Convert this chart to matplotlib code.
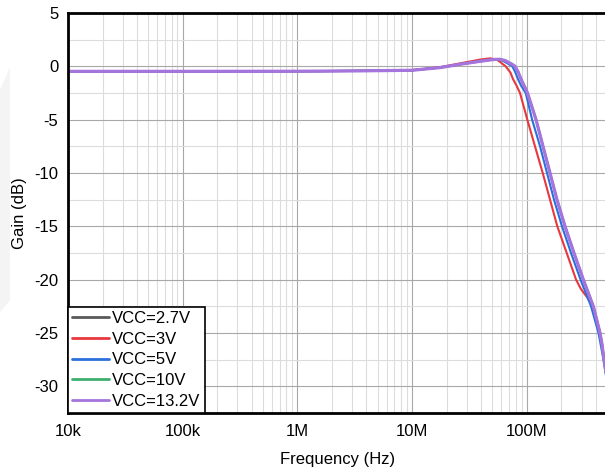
import matplotlib
matplotlib.use("Agg")
import matplotlib.pyplot as plt
from matplotlib.patches import Polygon
from matplotlib.ticker import FixedLocator, NullFormatter

plt.rcParams['font.family'] = ['Liberation Sans', 'DejaVu Sans']

# Frequency response, gain in dB versus frequency in Hz
freq_132 = [1e4, 1e5, 1e6, 3.2e6, 1e7, 17.5e6, 26.2e6, 39.1e6, 47.8e6, 52.8e6, 58.4e6,
            64.5e6, 71.3e6, 75.0e6, 78.9e6, 83.8e6, 89.0e6, 94.6e6, 101.4e6, 120.3e6,
            138.4e6, 159.3e6, 183.2e6, 215.3e6, 257.8e6, 311e6, 380e6, 435e6, 453e6,
            471e6, 490e6, 500e6]
gain_132 = [-0.47, -0.47, -0.46, -0.43, -0.37, -0.12, 0.19, 0.47, 0.60, 0.65, 0.66,
            0.55, 0.30, 0.17, 0.0, -0.5, -1.2, -1.8, -2.5, -5.0,
            -7.5, -10.0, -12.5, -15.0, -17.5, -20.0, -22.5, -25.0, -26.1,
            -27.5, -28.7, -29.5]

freq_3 = [1e4, 1e5, 1e6, 3.2e6, 1e7, 17.5e6, 26.2e6, 39.1e6, 47.8e6, 53.9e6, 58.4e6,
          62.0e6, 65.2e6, 72.1e6, 75.8e6, 81.3e6, 87.2e6, 101e6, 117.8e6, 137.6e6,
          159.3e6, 184.4e6, 222.8e6, 268.7e6, 297e6, 333e6, 356e6, 375.6e6, 397e6,
          435e6, 453e6, 471e6, 490e6, 500e6]
gain_3 = [-0.47, -0.47, -0.46, -0.42, -0.35, -0.08, 0.28, 0.63, 0.75, 0.65, 0.42,
          0.19, 0.02, -0.6, -1.2, -1.8, -2.5, -5.0, -7.5, -10.0,
          -12.5, -15.0, -17.5, -20.0, -20.9, -21.6, -22.1, -22.5, -23.3,
          -25.0, -26.1, -27.5, -28.7, -29.5]

freq_5 = [1e4, 1e5, 1e6, 3.2e6, 1e7, 17.5e6, 26.2e6, 39.1e6, 47.8e6, 55e6, 60.8e6,
          67.2e6, 74.7e6, 78.9e6, 83.8e6, 89.0e6, 97.8e6, 111.2e6, 130.4e6, 150e6,
          172.6e6, 202.6e6, 242.8e6, 294e6, 363e6, 421.7e6, 466e6, 500e6]
gain_5 = [-0.47, -0.47, -0.46, -0.43, -0.37, -0.11, 0.20, 0.50, 0.62, 0.66, 0.55,
          0.30, 0.0, -0.5, -1.2, -1.8, -2.5, -5.0, -7.5, -10.0,
          -12.5, -15.0, -17.5, -20.0, -22.5, -25.0, -27.5, -29.6]

freq_27 = freq_132
gain_27 = gain_132

freq_10 = freq_132
gain_10 = gain_132

series = [
    ("VCC=2.7V", freq_27, gain_27, "#5a5a5a", 1.5),
    ("VCC=3V", freq_3, gain_3, "#e8383d", 1.5),
    ("VCC=5V", freq_5, gain_5, "#2a6fdb", 1.5),
    ("VCC=10V", freq_10, gain_10, "#3caf6e", 1.5),
    ("VCC=13.2V", freq_132, gain_132, "#a574dc", 2.3),
]

x_ticks = [1e4, 1e5, 1e6, 1e7, 1e8]
x_labels = ["10k", "100k", "1M", "10M", "100M"]
y_ticks = [5, 0, -5, -10, -15, -20, -25, -30]
y_labels = ["5", "0", "-5", "-10", "-15", "-20", "-25", "-30"]

W, H = 605, 468
fig = plt.figure(figsize=(W / 100, H / 100), dpi=100)

# faint backdrop shape at the left edge
fig.patches.append(Polygon([(0, 1 - 90 / H), (10 / W, 1 - 67 / H), (10 / W, 1 - 300 / H), (0, 1 - 312 / H)],
                           closed=True, transform=fig.transFigure, facecolor="#f4f4f4",
                           edgecolor="none", zorder=-5))

ax = fig.add_axes([68 / W, (H - 413) / H, (607 - 68) / W, (413 - 13) / H])
ax.set_xscale("log")
ax.set_xlim(1e4, 5e8)
ax.set_ylim(-32.5, 5)

for label, f, g, c, lw in series:
    ax.plot(f, g, color=c, lw=lw, label=label, solid_capstyle="round", solid_joinstyle="round")

ax.xaxis.set_major_locator(FixedLocator(x_ticks))
ax.set_xticklabels(x_labels)
minor_x = [m * d for d in [1e4, 1e5, 1e6, 1e7, 1e8] for m in range(2, 10) if m * d <= 5e8]
ax.xaxis.set_minor_locator(FixedLocator(minor_x))
ax.xaxis.set_minor_formatter(NullFormatter())
ax.set_yticks(y_ticks)
ax.set_yticklabels(y_labels)
ax.yaxis.set_minor_locator(FixedLocator([2.5, -2.5, -7.5, -12.5, -17.5, -22.5, -27.5]))

ax.grid(which="major", color="#a8a8a8", lw=0.8)
ax.grid(which="minor", color="#dcdcdc", lw=0.8)
ax.set_axisbelow(True)
ax.tick_params(which="both", length=0, labelsize=12, colors="black")
ax.tick_params(axis="x", pad=8)
ax.tick_params(axis="y", pad=7)

for s in ax.spines.values():
    s.set_color("black")
    s.set_linewidth(2)

ax.set_xlabel("Frequency (Hz)", fontsize=12, labelpad=9)
ax.set_ylabel("Gain (dB)", fontsize=12, labelpad=5)

leg = ax.legend(loc="lower left", bbox_to_anchor=(0, 0), borderaxespad=0, fontsize=12,
                frameon=True, fancybox=False, framealpha=1, edgecolor="black",
                handlelength=2.2, handletextpad=0.2, labelspacing=0.34, borderpad=0.25)
for line in leg.get_lines():
    line.set_linewidth(2)
leg.get_frame().set_linewidth(1.2)

fig.savefig("out.png", dpi=100)
